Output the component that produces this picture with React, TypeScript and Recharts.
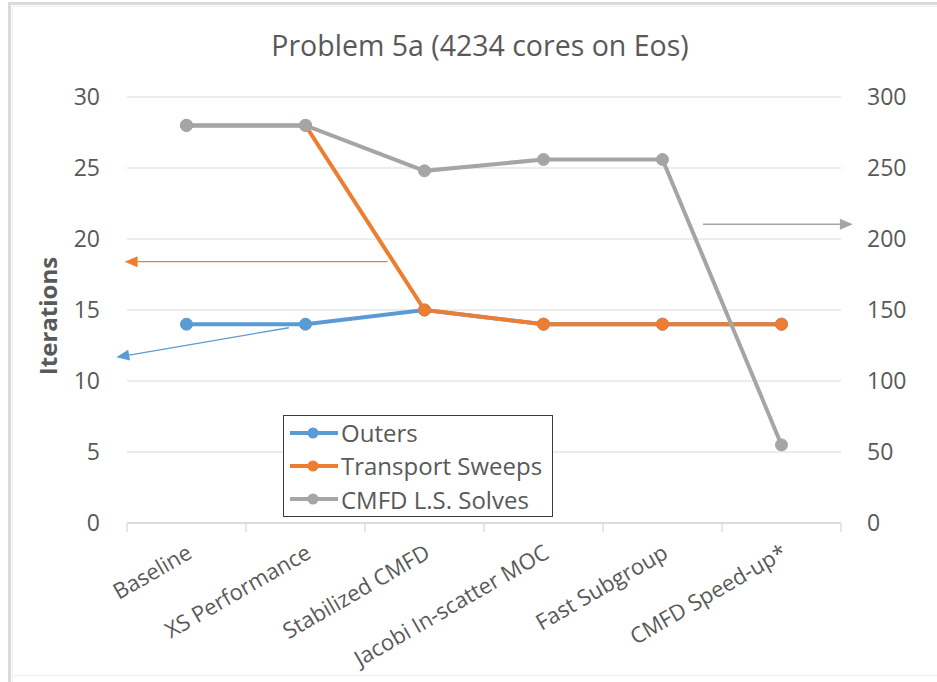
import React from 'react';
import { LineChart, Line, XAxis, YAxis, CartesianGrid, Legend, ReferenceLine } from 'recharts';

// Optimisation steps along the x axis
const categories = [
  'Baseline',
  'XS Performance',
  'Stabilized CMFD',
  'Jacobi In-scatter MOC',
  'Fast Subgroup',
  'CMFD Speed-up*',
];

// Iteration counts per step
const outers = [14, 14, 15, 14, 14, 14];
const transportSweeps = [28, 28, 15, 14, 14, 14];
const cmfdSolves = [280, 280, 248, 256, 256, 55];

// Axis ticks
const leftTicks = [0, 5, 10, 15, 20, 25, 30];
const rightTicks = [0, 50, 100, 150, 200, 250, 300];
// category boundaries (integers) and centres (halves)
const xTicks = [0, 0.5, 1, 1.5, 2, 2.5, 3, 3.5, 4, 4.5, 5, 5.5, 6];

// Annotation arrows (start -> tip), in axis units
const sweepsArrow = [{ x: 2.19, y: 18.4 }, { x: -0.02, y: 18.4 }];
const outersArrow = [{ x: 1.36, y: 13.75 }, { x: -0.09, y: 11.67 }];
const solvesArrow = [{ x: 4.84, y: 210.4 }, { x: 6.1, y: 210.4 }];

const BLUE = '#5B9BD5';
const ORANGE = '#ED7D31';
const GRAY = '#A5A5A5';
const TEXT = '#595959';
const GRID = '#D9D9D9';
const FONT = "'Open Sans', sans-serif";

const rows = categories.map((name, i) => ({
  x: i + 0.5,
  name,
  outers: outers[i],
  transportSweeps: transportSweeps[i],
  cmfdSolves: cmfdSolves[i],
}));

const seriesInfo = [
  { label: 'Outers', color: BLUE },
  { label: 'Transport Sweeps', color: ORANGE },
  { label: 'CMFD L.S. Solves', color: GRAY },
];

function CategoryTick(props: any) {
  const { x, y, payload } = props;
  const v = payload.value as number;
  if (Number.isInteger(v)) {
    return <line x1={x} x2={x} y1={y} y2={y + 9} stroke={GRID} strokeWidth={1.3} />;
  }
  const label = categories[Math.floor(v)];
  const ax = x + 7;
  const ay = y + 34;
  return (
    <text
      x={ax}
      y={ay}
      transform={`rotate(-30 ${ax} ${ay})`}
      textAnchor="end"
      fontSize={22}
      fontFamily={FONT}
      fill={TEXT}
    >
      {label}
    </text>
  );
}

function ArrowShape(props: any) {
  const { x1, y1, x2, y2, stroke } = props;
  const dx = x2 - x1;
  const dy = y2 - y1;
  const len = Math.sqrt(dx * dx + dy * dy) || 1;
  const ux = dx / len;
  const uy = dy / len;
  const headLen = 13;
  const headHalf = 5.5;
  const bx = x2 - ux * headLen;
  const by = y2 - uy * headLen;
  const px = -uy;
  const py = ux;
  return (
    <g>
      <line x1={x1} y1={y1} x2={bx} y2={by} stroke={stroke} strokeWidth={1.3} />
      <polygon
        points={`${x2},${y2} ${bx + px * headHalf},${by + py * headHalf} ${bx - px * headHalf},${by - py * headHalf}`}
        fill={stroke}
      />
    </g>
  );
}

function LegendBox() {
  return (
    <div
      style={{
        width: 270,
        height: 102,
        boxSizing: 'border-box',
        border: '1.5px solid #3a3a3a',
        background: '#fff',
        paddingLeft: 6,
        fontFamily: FONT,
        fontSize: 24,
        color: TEXT,
      }}
    >
      {seriesInfo.map((s) => (
        <div key={s.label} style={{ display: 'flex', alignItems: 'center', height: 33.3, whiteSpace: 'nowrap' }}>
          <svg width={51} height={14} style={{ flex: 'none' }}>
            <line x1={0} x2={48} y1={7} y2={7} stroke={s.color} strokeWidth={4} />
            <circle cx={23} cy={7} r={5.5} fill={s.color} />
          </svg>
          <span style={{ lineHeight: '33px' }}>{s.label}</span>
        </div>
      ))}
    </div>
  );
}

function IterationsLabel(props: any) {
  const vb = props.viewBox || { x: 0, y: 97, width: 127, height: 426 };
  const cx = vb.x + 47;
  const cy = vb.y + vb.height / 2 + 6;
  return (
    <text
      x={cx}
      y={cy}
      transform={`rotate(-90 ${cx} ${cy})`}
      textAnchor="middle"
      dominantBaseline="central"
      fontSize={24}
      fontWeight="bold"
      fontFamily={FONT}
      fill={TEXT}
    >
      Iterations
    </text>
  );
}

export default function App() {
  return (
    <div
      style={{
        position: 'absolute',
        left: 0,
        top: 0,
        width: 937,
        height: 682,
        background: '#fff',
        fontFamily: FONT,
        overflow: 'hidden',
      }}
    >
      {/* frame */}
      <div style={{ position: 'absolute', left: 8, top: 2, width: 929, height: 3, background: '#DADADA' }} />
      <div style={{ position: 'absolute', left: 8, top: 2, width: 3, height: 680, background: '#DADADA' }} />
      <div style={{ position: 'absolute', left: 12, top: 6, width: 925, height: 1, background: '#F0F0F0' }} />
      <div style={{ position: 'absolute', left: 12, top: 6, width: 1, height: 676, background: '#F0F0F0' }} />
      <div style={{ position: 'absolute', left: 14, top: 675, width: 923, height: 1, background: '#EEEEEE' }} />

      <div
        style={{
          position: 'absolute',
          left: 0,
          top: 26,
          width: 960,
          textAlign: 'center',
          fontSize: 28.5,
          lineHeight: '38px',
          color: TEXT,
          fontFamily: FONT,
        }}
      >
        Problem 5a (4234 cores on Eos)
      </div>

      <div style={{ position: 'absolute', left: 0, top: 0 }}>
        <LineChart width={937} height={682} data={rows} margin={{ top: 97, right: 0, bottom: 0, left: 0 }}>
          <CartesianGrid yAxisId="left" vertical={false} stroke={GRID} strokeWidth={1.2} />
          <XAxis
            dataKey="x"
            type="number"
            domain={[0, 6]}
            ticks={xTicks}
            interval={0}
            height={159}
            tickSize={0}
            tickMargin={0}
            tickLine={false}
            axisLine={{ stroke: GRID, strokeWidth: 1.5 }}
            tick={<CategoryTick />}
          />
          <YAxis
            yAxisId="left"
            domain={[0, 30]}
            ticks={leftTicks}
            width={127}
            axisLine={false}
            tickLine={false}
            tickSize={0}
            tickMargin={27}
            tick={{ fontSize: 23, fill: TEXT, fontFamily: FONT }}
            label={<IterationsLabel />}
          />
          <YAxis
            yAxisId="right"
            orientation="right"
            domain={[0, 300]}
            ticks={rightTicks}
            width={96}
            axisLine={false}
            tickLine={false}
            tickSize={0}
            tickMargin={26}
            tick={{ fontSize: 23, fill: TEXT, fontFamily: FONT }}
          />
          <Line
            yAxisId="left"
            dataKey="outers"
            name="Outers"
            stroke={BLUE}
            strokeWidth={4}
            dot={{ r: 6, fill: BLUE, stroke: BLUE, strokeWidth: 1 }}
            activeDot={false}
            isAnimationActive={false}
          />
          <Line
            yAxisId="left"
            dataKey="transportSweeps"
            name="Transport Sweeps"
            stroke={ORANGE}
            strokeWidth={4}
            dot={{ r: 6, fill: ORANGE, stroke: ORANGE, strokeWidth: 1 }}
            activeDot={false}
            isAnimationActive={false}
          />
          <Line
            yAxisId="right"
            dataKey="cmfdSolves"
            name="CMFD L.S. Solves"
            stroke={GRAY}
            strokeWidth={4}
            dot={{ r: 6, fill: GRAY, stroke: GRAY, strokeWidth: 1 }}
            activeDot={false}
            isAnimationActive={false}
          />
          <ReferenceLine
            yAxisId="left"
            segment={sweepsArrow}
            stroke={ORANGE}
            ifOverflow="visible"
            shape={ArrowShape}
          />
          <ReferenceLine
            yAxisId="left"
            segment={outersArrow}
            stroke={BLUE}
            ifOverflow="visible"
            shape={ArrowShape}
          />
          <ReferenceLine
            yAxisId="right"
            segment={solvesArrow}
            stroke={GRAY}
            ifOverflow="visible"
            shape={ArrowShape}
          />
          <Legend
            layout="horizontal"
            verticalAlign="middle"
            align="center"
            content={<LegendBox />}
            wrapperStyle={{ position: 'absolute', left: 283, top: 415, width: 270, height: 102 }}
          />
        </LineChart>
      </div>
    </div>
  );
}
